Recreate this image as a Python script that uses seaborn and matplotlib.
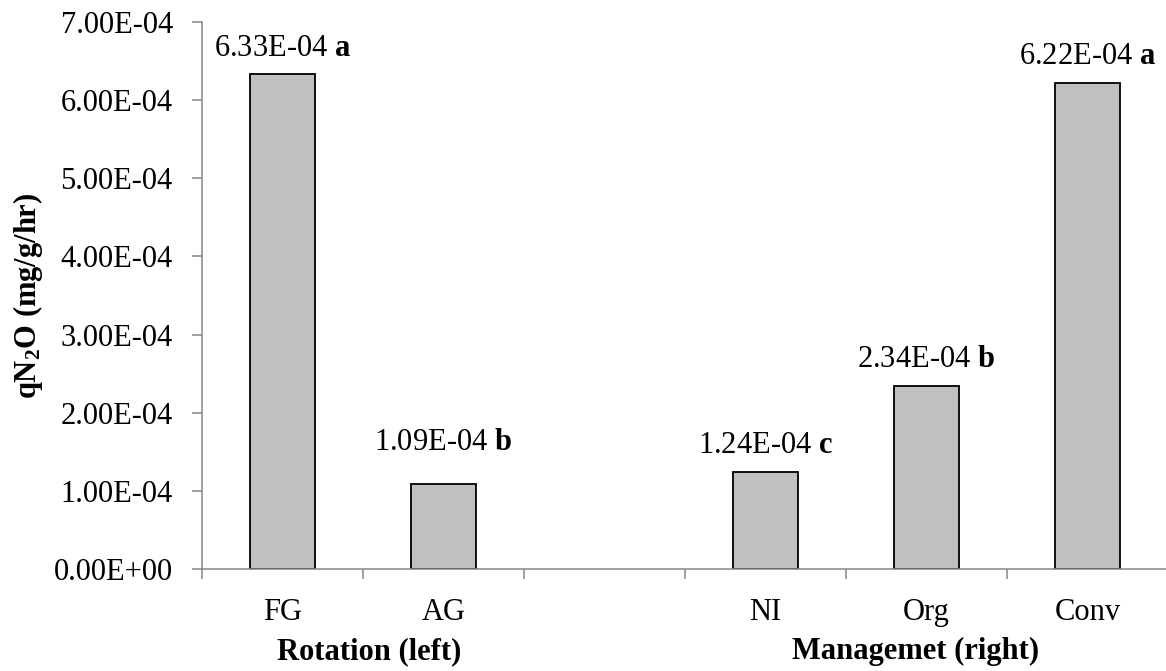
import matplotlib
matplotlib.use("Agg")
import matplotlib.pyplot as plt
import matplotlib.ticker as mticker
import seaborn as sns
import pandas as pd

# Data
categories = ["FG", "AG", "", "NI", "Org", "Conv"]
bar_names = ["FG", "AG", "NI", "Org", "Conv"]
values = [6.33e-4, 1.09e-4, 1.24e-4, 2.34e-4, 6.22e-4]
letters = ["a", "b", "c", "b", "a"]
group_titles = ["Rotation (left)", "Managemet (right)"]
y_ticks = [0, 1e-4, 2e-4, 3e-4, 4e-4, 5e-4, 6e-4, 7e-4]

# label gap above each bar, in points
label_gap = [13.5, 24, 13.5, 14, 14]
# horizontal centre of each group title, in category units
group_centers = [0.54, 3.93]

sns.set_theme(style="white")
plt.rcParams["font.family"] = ["Liberation Serif", "DejaVu Serif"]
plt.rcParams["text.color"] = "black"
plt.rcParams["axes.labelcolor"] = "black"
plt.rcParams["xtick.color"] = "black"
plt.rcParams["ytick.color"] = "black"
plt.rcParams["mathtext.fontset"] = "custom"
plt.rcParams["mathtext.rm"] = "Liberation Serif"
plt.rcParams["mathtext.bf"] = "Liberation Serif:bold"
plt.rcParams["mathtext.it"] = "Liberation Serif:italic"

FS = 22

df = pd.DataFrame({"cat": bar_names, "val": values})

fig = plt.figure(figsize=(11.66, 6.71), dpi=100)
ax = fig.add_axes([0.1732, 0.152, 0.8285, 0.8152])

sns.barplot(data=df, x="cat", y="val", order=categories, ax=ax,
            color="#C0C0C0", saturation=1, width=0.4,
            edgecolor="black", linewidth=1.3)

ax.set_xlim(-0.5, len(categories) - 0.5)
ax.set_ylim(0, 7e-4)

# y axis
ax.set_yticks(y_ticks)
ax.yaxis.set_major_formatter(mticker.FuncFormatter(lambda v, p: f"{v:.2E}"))
ax.tick_params(axis="y", labelsize=FS, length=7, width=1.1, color="#868686",
               labelcolor="black", direction="out", left=True, pad=14)

# x axis: tick marks on category boundaries, labels at centers
ax.set_xticks([i - 0.5 for i in range(len(categories) + 1)])
ax.set_xticklabels([])
ax.set_xticks(range(len(categories)), minor=True)
ax.set_xticklabels(categories, minor=True)
ax.tick_params(axis="x", which="major", length=7, width=1.1, color="#868686",
               direction="out", bottom=True)
ax.tick_params(axis="x", which="minor", length=0, labelsize=FS, pad=21,
               labelcolor="black")
ax.set_xlabel("")

ax.set_ylabel(r"$\mathbf{qN_2O}$ $\mathbf{(mg/g/hr)}$", fontsize=FS, labelpad=6)

for s in ["top", "right"]:
    ax.spines[s].set_visible(False)
for s in ["left", "bottom"]:
    ax.spines[s].set_color("#868686")
    ax.spines[s].set_linewidth(1.1)

# value labels
for name, v, l, g in zip(bar_names, values, letters, label_gap):
    xi = categories.index(name)
    ax.annotate(f"{v:.2E} " + r"$\mathbf{" + l + "}$", (xi, v),
                xytext=(0, g), textcoords="offset points",
                ha="center", va="baseline", fontsize=FS)

# group titles
for title, xc in zip(group_titles, group_centers):
    ax.text(xc, -0.124, title, transform=ax.get_xaxis_transform(),
            ha="center", va="top", fontsize=FS, fontweight="bold")

fig.savefig("out.png", dpi=100)
